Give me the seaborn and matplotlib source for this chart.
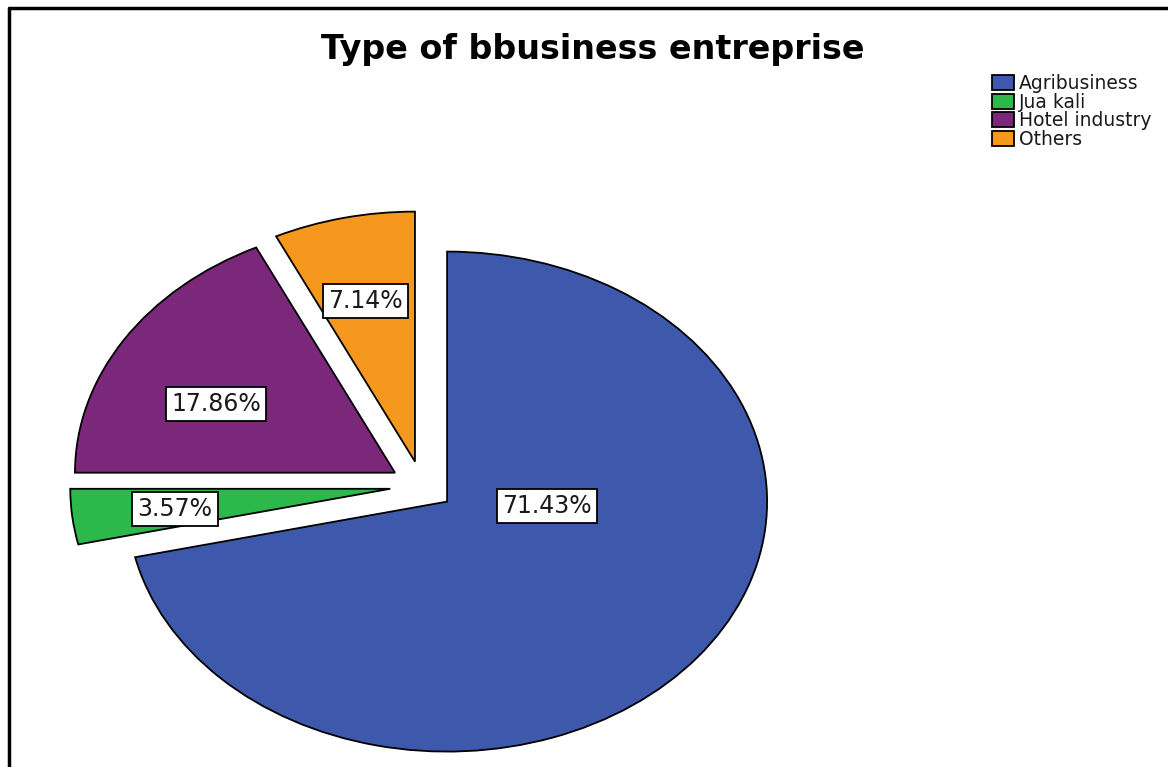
import matplotlib
matplotlib.use("Agg")
import matplotlib.pyplot as plt
from matplotlib.lines import Line2D
import seaborn as sns

# ---- data ----
categories = ["Agribusiness", "Jua kali", "Hotel industry", "Others"]
counts = [20, 1, 5, 2]
colors = ["#3E58AB", "#2DB84C", "#7B287A", "#F7981E"]
title = "Type of bbusiness entreprise"

# ---- layout constants (label box positions, in pie data units) ----
label_pos = [(0.39, -0.08), (-0.772, -0.092), (-0.644, 0.328), (-0.178, 0.74)]

sns.set_theme(style="white")
plt.rcParams["font.family"] = ["DejaVu Sans"]

fig = plt.figure(figsize=(11.68, 7.67), dpi=100)
ax = fig.add_axes([0, 0, 1, 1])

total = sum(counts)
wedges, _ = ax.pie(
    counts,
    colors=colors,
    explode=[0.1] * len(counts),
    startangle=90,
    counterclock=False,
    wedgeprops=dict(edgecolor="black", linewidth=1.3),
)
ax.set_aspect("auto")
ax.set_xlim(-1.319, 2.331)
ax.set_ylim(-1.124, 1.944)
ax.axis("off")

for (x, y), c in zip(label_pos, counts):
    ax.text(x, y, f"{100 * c / total:.2f}%", ha="center", va="center",
            fontsize=17, color="#1a1a1a",
            bbox=dict(boxstyle="square,pad=0.22", facecolor="white",
                      edgecolor="black", linewidth=1.3))

fig.text(593 / 1168, 1 - 49 / 767, title, ha="center", va="center",
         fontsize=24, fontweight="bold", color="black")

leg = fig.legend(wedges, categories, loc="upper left",
                 bbox_to_anchor=(992 / 1168, 1 - 74 / 767),
                 frameon=False, fontsize=13.5, labelspacing=-0.02,
                 handlelength=1.15, handleheight=0.85, handletextpad=0.3,
                 borderpad=0.0, borderaxespad=0.0)
for t in leg.get_texts():
    t.set_color("#1a1a1a")

# figure frame lines (top and left)
fig.add_artist(Line2D([9 / 1168, 1.0], [1 - 8 / 767, 1 - 8 / 767],
                      transform=fig.transFigure, color="black", linewidth=2.5))
fig.add_artist(Line2D([9 / 1168, 9 / 1168], [0.0, 1 - 8 / 767],
                      transform=fig.transFigure, color="black", linewidth=2.5))

fig.savefig("out.png", dpi=100)
